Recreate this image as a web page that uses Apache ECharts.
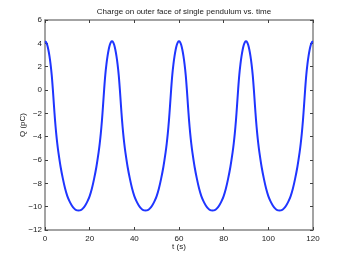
<!DOCTYPE html>
<html>
<head>
<meta charset="utf-8">
<script src="https://cdn.jsdelivr.net/npm/echarts@6/dist/echarts.min.js"></script>
<style>
html,body{margin:0;padding:0;background:#fff;}
#chart{width:346px;height:260px;}
</style>
</head>
<body>
<div id="chart"></div>
<script>
// Data
var titleText = 'Charge on outer face of single pendulum vs. time';
var xLabel = 't (s)';
var yLabel = 'Q (pC)';
var xTicks = [0, 20, 40, 60, 80, 100, 120];
var yTicks = [-12, -10, -8, -6, -4, -2, 0, 2, 4, 6];

var timeS = [
  0, 0.5, 1, 1.5, 2, 2.5, 3, 3.5, 4, 4.5, 5, 5.5, 6, 7, 8, 9, 10, 11, 12, 13, 14,
  15, 16, 17, 18, 19, 20, 21, 22, 23, 24, 24.5, 25, 25.5, 26, 26.5, 27, 27.5, 28, 28.5, 29, 29.5,
  30, 30.5, 31, 31.5, 32, 32.5, 33, 33.5, 34, 34.5, 35, 35.5, 36, 37, 38, 39, 40, 41, 42, 43, 44,
  45, 46, 47, 48, 49, 50, 51, 52, 53, 54, 54.5, 55, 55.5, 56, 56.5, 57, 57.5, 58, 58.5, 59, 59.5,
  60, 60.5, 61, 61.5, 62, 62.5, 63, 63.5, 64, 64.5, 65, 65.5, 66, 67, 68, 69, 70, 71, 72, 73, 74,
  75, 76, 77, 78, 79, 80, 81, 82, 83, 84, 84.5, 85, 85.5, 86, 86.5, 87, 87.5, 88, 88.5, 89, 89.5,
  90, 90.5, 91, 91.5, 92, 92.5, 93, 93.5, 94, 94.5, 95, 95.5, 96, 97, 98, 99, 100, 101, 102, 103, 104,
  105, 106, 107, 108, 109, 110, 111, 112, 113, 114, 114.5, 115, 115.5, 116, 116.5, 117, 117.5, 118, 118.5, 119, 119.5,
  120
];
var chargePC = [
  4.17, 4.1, 3.85, 3.45, 2.9, 2.2, 1.3, 0.1, -1.3, -2.6, -3.7, -4.6, -5.35, -6.6, -7.6, -8.45, -9.1, -9.55, -9.9, -10.15, -10.3,
  -10.33, -10.3, -10.15, -9.9, -9.55, -9.1, -8.45, -7.6, -6.6, -5.35, -4.6, -3.7, -2.6, -1.3, 0.1, 1.3, 2.2, 2.9, 3.45, 3.85, 4.1,
  4.17, 4.1, 3.85, 3.45, 2.9, 2.2, 1.3, 0.1, -1.3, -2.6, -3.7, -4.6, -5.35, -6.6, -7.6, -8.45, -9.1, -9.55, -9.9, -10.15, -10.3,
  -10.33, -10.3, -10.15, -9.9, -9.55, -9.1, -8.45, -7.6, -6.6, -5.35, -4.6, -3.7, -2.6, -1.3, 0.1, 1.3, 2.2, 2.9, 3.45, 3.85, 4.1,
  4.17, 4.1, 3.85, 3.45, 2.9, 2.2, 1.3, 0.1, -1.3, -2.6, -3.7, -4.6, -5.35, -6.6, -7.6, -8.45, -9.1, -9.55, -9.9, -10.15, -10.3,
  -10.33, -10.3, -10.15, -9.9, -9.55, -9.1, -8.45, -7.6, -6.6, -5.35, -4.6, -3.7, -2.6, -1.3, 0.1, 1.3, 2.2, 2.9, 3.45, 3.85, 4.1,
  4.17, 4.1, 3.85, 3.45, 2.9, 2.2, 1.3, 0.1, -1.3, -2.6, -3.7, -4.6, -5.35, -6.6, -7.6, -8.45, -9.1, -9.55, -9.9, -10.15, -10.3,
  -10.33, -10.3, -10.15, -9.9, -9.55, -9.1, -8.45, -7.6, -6.6, -5.35, -4.6, -3.7, -2.6, -1.3, 0.1, 1.3, 2.2, 2.9, 3.45, 3.85, 4.1,
  4.17
];

var points = timeS.map(function (t, i) { return [t, chargePC[i]]; });

var font = 'Liberation Sans';
var frameColor = '#858585';
var tickColor = '#404040';
var textColor = '#1a1a1a';

function fmt(v) { return String(v).replace('-', '\u2212'); }

function frameAxis(pos, showLabel, isX) {
  var ticks = isX ? xTicks : yTicks;
  return {
    type: 'value',
    position: pos,
    min: ticks[0],
    max: ticks[ticks.length - 1],
    interval: ticks[1] - ticks[0],
    nameMoveOverlap: false,
    axisLine: { show: true, onZero: false, lineStyle: { color: frameColor, width: 1.5 } },
    axisTick: { show: true, inside: true, length: 3, lineStyle: { color: tickColor, width: 1 } },
    splitLine: { show: false },
    axisLabel: {
      show: showLabel,
      fontFamily: font,
      fontSize: 8,
      color: textColor,
      margin: isX ? 5 : 3,
      formatter: fmt
    }
  };
}

var xBottom = frameAxis('bottom', true, true);
xBottom.name = xLabel;
xBottom.nameLocation = 'middle';
xBottom.nameGap = 13;
xBottom.nameTextStyle = { fontFamily: font, fontSize: 8, color: textColor };
var xTop = frameAxis('top', false, true);

var yLeft = frameAxis('left', true, false);
yLeft.name = yLabel;
yLeft.nameLocation = 'middle';
yLeft.nameGap = 18;
yLeft.nameTextStyle = { fontFamily: font, fontSize: 8, color: textColor };
var yRight = frameAxis('right', false, false);

var chart = echarts.init(document.getElementById('chart'), null, { renderer: 'canvas' });
chart.setOption({
  animation: false,
  backgroundColor: '#ffffff',
  title: {
    text: titleText,
    left: 179,
    textAlign: 'center',
    top: 3,
    textStyle: { fontFamily: font, fontSize: 8, fontWeight: 'normal', color: textColor }
  },
  grid: { left: 45, right: 33, top: 20, bottom: 30, containLabel: false },
  xAxis: [xBottom, xTop],
  yAxis: [yLeft, yRight],
  series: [{
    type: 'line',
    data: points,
    xAxisIndex: 0,
    yAxisIndex: 0,
    showSymbol: false,
    smooth: 0.3,
    lineStyle: { color: '#1f35ff', width: 2 },
    clip: true
  }]
});
</script>
</body>
</html>
